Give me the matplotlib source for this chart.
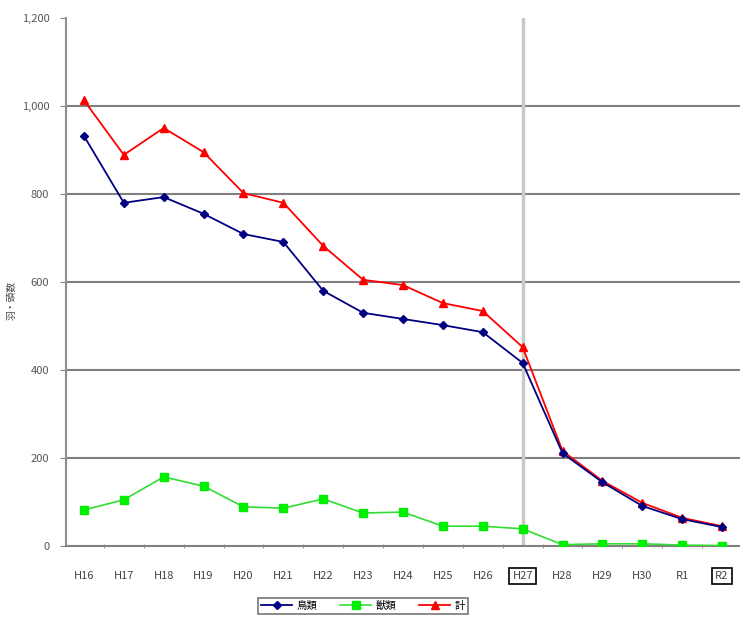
import matplotlib
matplotlib.use("Agg")
import matplotlib.pyplot as plt
from matplotlib.ticker import FuncFormatter, MultipleLocator

plt.rcParams['font.family'] = ['Noto Sans CJK JP', 'DejaVu Sans']

categories = ["H16", "H17", "H18", "H19", "H20", "H21", "H22", "H23", "H24",
              "H25", "H26", "H27", "H28", "H29", "H30", "R1", "R2"]
birds = [932, 780, 793, 755, 709, 691, 580, 530, 516, 502, 486, 416, 211, 145, 91, 61, 43]
beasts = [82, 105, 157, 136, 89, 86, 107, 75, 77, 45, 45, 39, 3, 5, 5, 2, 1]
total = [1013, 889, 950, 895, 802, 780, 682, 605, 593, 552, 534, 452, 216, 148, 98, 64, 45]
boxed = ["H27", "R2"]
series_names = ["鳥類", "獣類", "計"]
ylabel = "羽・頭数"
gridlines = [200, 400, 600, 800, 1000]

fig = plt.figure(figsize=(7.4, 6.18), dpi=100)
ax = fig.add_axes([66/740, 1 - 546/618, 1 - 66/740, (546 - 18)/618])

x = list(range(len(categories)))
ax.plot(x, birds, color="#000080", marker="D", markersize=4, lw=1.3, label=series_names[0], zorder=4)
ax.plot(x, beasts, color="#33dd33", marker="s", markersize=6, lw=1.2, markerfacecolor="#00ee00",
        markeredgecolor="#00ee00", label=series_names[1], zorder=4)
ax.plot(x, total, color="#ff0000", marker="^", markersize=5.5, lw=1.3, label=series_names[2], zorder=3)

ax.set_ylim(0, 1200)
ax.set_xlim(-0.45, len(categories) - 0.55)
ax.yaxis.set_major_locator(MultipleLocator(200))
ax.yaxis.set_major_formatter(FuncFormatter(lambda v, p: f"{int(v):,}"))
for g in gridlines:
    ax.axhline(g, color="#808080", lw=1.5, zorder=1)

ax.axvline(categories.index("H27"), color="#c8c8c8", lw=2.5, zorder=2)

for s in ["top", "right"]:
    ax.spines[s].set_visible(False)
ax.spines["left"].set_color("#909090")
ax.spines["left"].set_linewidth(1.5)
ax.spines["bottom"].set_color("#808080")
ax.spines["bottom"].set_linewidth(1.5)

ax.set_xticks(x)
ax.set_xticklabels(categories)
ax.tick_params(axis="x", length=0, pad=18, labelsize=8, labelcolor="#444444")
ax.set_xticks([i + 0.5 for i in x[:-1]], minor=True)
ax.tick_params(axis="x", which="minor", length=3, color="#808080", direction="inout")
ax.tick_params(axis="y", length=4, color="#808080", labelsize=8, labelcolor="#555555", pad=8)

for lab in ax.get_xticklabels():
    if lab.get_text() in boxed:
        lab.set_bbox(dict(facecolor="white", edgecolor="black", lw=1.2, boxstyle="square,pad=0.3"))

fig.text(12/740, 1 - 300/618, ylabel, rotation=90, ha="center", va="center", fontsize=7, color="#444444")

leg = fig.legend(loc="center", bbox_to_anchor=(363/740, 1 - 606/618), ncol=3, fontsize=7.5,
                 frameon=True, fancybox=False, edgecolor="#555555", handlelength=3,
                 columnspacing=2.2, borderpad=0.3, handletextpad=0.4)
leg.get_frame().set_linewidth(1.2)

fig.savefig("out.png", dpi=100)
